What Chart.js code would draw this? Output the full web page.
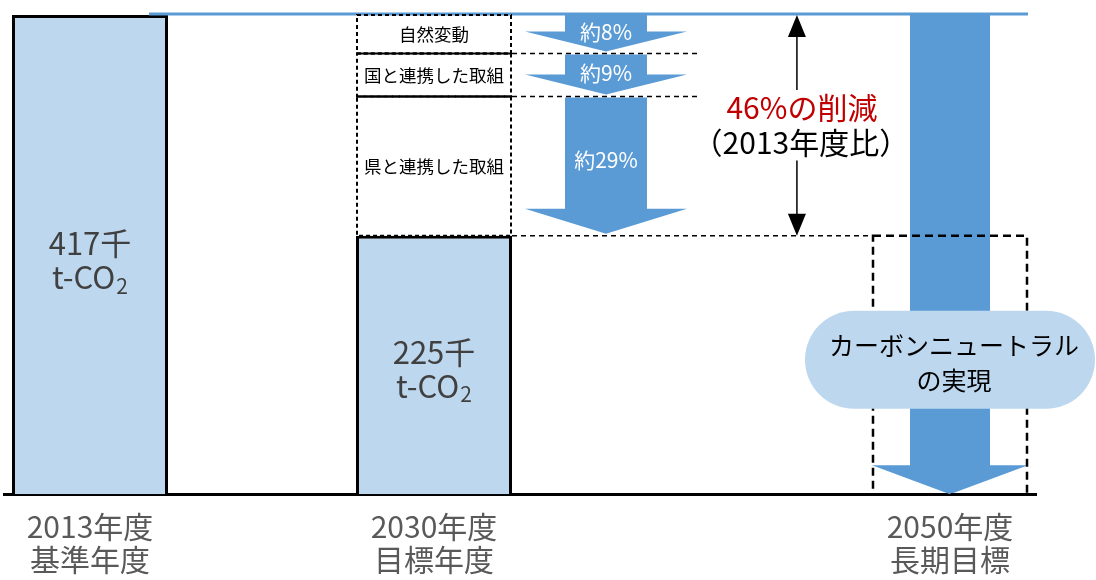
<!DOCTYPE html>
<html lang="ja">
<head>
<meta charset="utf-8">
<script src="https://cdn.jsdelivr.net/npm/chart.js@4.4.1/dist/chart.umd.min.js"></script>
<style>
  html, body { margin: 0; padding: 0; background: #fff; }
  #wrap { width: 1096px; height: 580px; }
</style>
</head>
<body>
<div id="wrap"><canvas id="co2Chart"></canvas></div>
<script>
// categories on the x axis (empty slots keep the spacing of the original)
const categories = [['2013年度', '基準年度'], '', ['2030年度', '目標年度'], '', '', ['2050年度', '長期目標']];
// emissions, 千t-CO2
const emissions = [417, null, 225, null, null, null];
// reduction from 2013 to 2030, stacked from the 2030 bar upward
const reductionNames = ['県と連携した取組', '国と連携した取組', '自然変動'];
const reductionValues = [121, 37.5, 33.5];
const reductionLabels = ['約29%', '約9%', '約8%'];
const totalLabel = ['46%の削減', '（2013年度比）'];
const goalLabel = ['カーボンニュートラル', 'の実現'];

const FONT = "'Noto Sans CJK JP', 'Noto Sans', sans-serif";
const BLUE = '#5b9bd5';
const LIGHT = '#bdd7ee';

function downArrow(ctx, cx, top, bottom, shaftHalf, headHalf, headH) {
  ctx.beginPath();
  ctx.moveTo(cx - shaftHalf, top);
  ctx.lineTo(cx + shaftHalf, top);
  ctx.lineTo(cx + shaftHalf, bottom - headH);
  ctx.lineTo(cx + headHalf, bottom - headH);
  ctx.lineTo(cx, bottom);
  ctx.lineTo(cx - headHalf, bottom - headH);
  ctx.lineTo(cx - shaftHalf, bottom - headH);
  ctx.closePath();
  ctx.fill();
}

function co2Text(ctx, num, cx, cy) {
  ctx.fillStyle = '#404040';
  ctx.textAlign = 'center';
  ctx.font = '31px ' + FONT;
  ctx.fillText(num + '千', cx, cy - 17);
  const w1 = ctx.measureText('t-CO').width;
  ctx.font = '21px ' + FONT;
  const w2 = ctx.measureText('2').width;
  const left = cx - (w1 + w2 + 1) / 2;
  ctx.textAlign = 'left';
  ctx.font = '31px ' + FONT;
  ctx.fillText('t-CO', left, cy + 17);
  ctx.font = '21px ' + FONT;
  ctx.fillText('2', left + w1 + 1, cy + 25);
  ctx.textAlign = 'center';
}

const overlay = {
  id: 'overlay',
  afterDatasetsDraw(chart) {
    const { ctx, scales: { x, y } } = chart;
    const bars = chart.getDatasetMeta(0).data;
    const bar13 = bars[0], bar30 = bars[2];
    const w = bar30.width;
    const segs = reductionValues.map((v, i) => chart.getDatasetMeta(i + 1).data[2]);
    const arrowX = x.getPixelForValue(3);
    const x50 = x.getPixelForValue(5);
    const yTop = y.getPixelForValue(emissions[0]);
    const yTarget = y.getPixelForValue(emissions[2]);
    const yZero = y.getPixelForValue(0);

    ctx.save();
    ctx.textBaseline = 'middle';
    ctx.textAlign = 'center';

    // reduction arrows
    ctx.fillStyle = BLUE;
    segs.forEach((el, i) => {
      const headH = i === 0 ? 25 : 20;
      downArrow(ctx, arrowX, el.y + (i === 2 ? 0 : 1), el.base - 2, 41, 81, headH);
    });

    // 2050 arrow
    downArrow(ctx, x50, yTop, yZero, 40, 78, 29);

    // blue top line
    ctx.strokeStyle = BLUE;
    ctx.lineWidth = 3;
    ctx.beginPath();
    ctx.moveTo(bar13.x + w / 2 - 19, yTop - 1);
    ctx.lineTo(x50 + w / 2, yTop - 1);
    ctx.stroke();

    // dashed boxes over the 2030 bar
    ctx.strokeStyle = '#000';
    ctx.lineWidth = 2;
    ctx.setLineDash([4, 3]);
    segs.forEach(el => {
      ctx.strokeRect(el.x - w / 2 + 1, el.y, w - 2, el.base - el.y);
    });
    // inner dividers look solid where two dashed edges meet
    ctx.setLineDash([]);
    ctx.beginPath();
    [segs[0].y, segs[1].y].forEach(py => {
      ctx.moveTo(bar30.x - w / 2, py);
      ctx.lineTo(bar30.x + w / 2, py);
    });
    ctx.stroke();

    // dashed guide lines
    ctx.lineWidth = 1.5;
    ctx.setLineDash([5, 4]);
    ctx.beginPath();
    [segs[0].y, segs[1].y].forEach(py => {
      ctx.moveTo(bar30.x + w / 2, py);
      ctx.lineTo(arrowX + 93, py);
    });
    ctx.moveTo(bar30.x + w / 2, yTarget);
    ctx.lineTo(x50 - w / 2, yTarget);
    ctx.stroke();

    // 2050 dashed box
    ctx.lineWidth = 2.5;
    ctx.setLineDash([8, 5]);
    ctx.strokeRect(x50 - w / 2 + 1, yTarget, w - 2, yZero - yTarget);
    ctx.setLineDash([]);

    // segment labels
    ctx.fillStyle = '#000';
    ctx.font = '17.5px ' + FONT;
    segs.forEach((el, i) => {
      ctx.fillText(reductionNames[i], el.x, (el.y + el.base) / 2);
    });
    ctx.fillStyle = '#fff';
    ctx.font = '21px ' + FONT;
    segs.forEach((el, i) => {
      const off = i === 0 ? -6 : -2;
      ctx.fillText(reductionLabels[i], arrowX, (el.y + el.base) / 2 + off);
    });

    // double arrow 46%
    const dx = x.getPixelForValue(4.11);
    const span = yTarget - yTop;
    ctx.strokeStyle = '#000';
    ctx.fillStyle = '#000';
    ctx.lineWidth = 1.5;
    ctx.beginPath();
    ctx.moveTo(dx, yTop + 20);
    ctx.lineTo(dx, yTop + span * 0.34);
    ctx.moveTo(dx, yTop + span * 0.66);
    ctx.lineTo(dx, yTarget - 20);
    ctx.stroke();
    ctx.beginPath();
    ctx.moveTo(dx, yTop);
    ctx.lineTo(dx + 9, yTop + 22);
    ctx.lineTo(dx - 9, yTop + 22);
    ctx.closePath();
    ctx.fill();
    ctx.beginPath();
    ctx.moveTo(dx, yTarget);
    ctx.lineTo(dx + 9, yTarget - 22);
    ctx.lineTo(dx - 9, yTarget - 22);
    ctx.closePath();
    ctx.fill();
    ctx.font = '30px ' + FONT;
    ctx.fillStyle = '#c00000';
    ctx.fillText(totalLabel[0], dx + 5, yTop + span * 0.42);
    ctx.fillStyle = '#000';
    ctx.fillText(totalLabel[1], dx + 4, yTop + span * 0.58);

    // bar value labels
    co2Text(ctx, emissions[0], bar13.x, (bar13.y + bar13.base) / 2 + 6);
    co2Text(ctx, emissions[2], bar30.x, (bar30.y + bar30.base) / 2 + 4);

    // carbon neutral pill
    const py = y.getPixelForValue(117);
    const hw = 145, hh = 49;
    ctx.fillStyle = LIGHT;
    ctx.beginPath();
    ctx.moveTo(x50 - hw + hh, py - hh);
    ctx.lineTo(x50 + hw - hh, py - hh);
    ctx.arc(x50 + hw - hh, py, hh, -Math.PI / 2, Math.PI / 2);
    ctx.lineTo(x50 - hw + hh, py + hh);
    ctx.arc(x50 - hw + hh, py, hh, Math.PI / 2, Math.PI * 1.5);
    ctx.closePath();
    ctx.fill();
    ctx.fillStyle = '#000';
    ctx.font = '25px ' + FONT;
    ctx.fillText(goalLabel[0], x50 + 4, py - 14);
    ctx.fillText(goalLabel[1], x50 + 4, py + 21);

    ctx.restore();
  }
};

new Chart(document.getElementById('co2Chart'), {
  type: 'bar',
  data: {
    labels: categories,
    datasets: [
      { data: emissions, backgroundColor: LIGHT, borderColor: '#000', borderWidth: 3 },
      ...reductionValues.map(v => ({
        data: emissions.map((e, i) => i === 2 ? v : null),
        backgroundColor: 'rgba(0,0,0,0)',
        borderWidth: 0
      }))
    ]
  },
  options: {
    responsive: true,
    maintainAspectRatio: false,
    animation: false,
    layout: { padding: { top: 15, left: 4, right: 60, bottom: -4 } },
    datasets: { bar: { categoryPercentage: 1, barPercentage: 0.907 } },
    plugins: { legend: { display: false }, tooltip: { enabled: false } },
    scales: {
      x: {
        stacked: true,
        z: 1,
        grid: { display: false },
        border: { color: '#000', width: 3 },
        ticks: {
          color: '#595959',
          font: { family: FONT, size: 30, lineHeight: 1.13 },
          padding: 7,
          maxRotation: 0,
          autoSkip: false
        }
      },
      y: { stacked: true, display: false, min: 0, max: 417 }
    }
  },
  plugins: [overlay]
});
</script>
</body>
</html>
